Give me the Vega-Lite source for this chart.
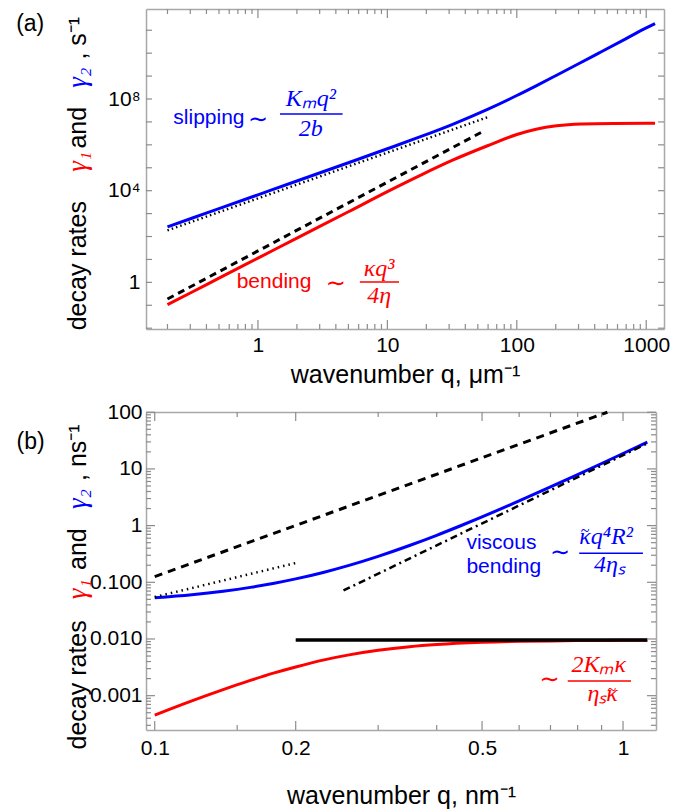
{
  "$schema": "https://vega.github.io/schema/vega-lite/v6.json",
  "background": "white",
  "padding": {"left": 16, "top": 8, "right": 4, "bottom": 4},
  "spacing": 14,
  "config": {
    "view": {"stroke": null},
    "axis": {
      "domainColor": "#a8a8a8", "domainWidth": 1.5, "ticks": false,
      "labelFont": "Liberation Sans", "labelFontSize": 21, "labelColor": "black",
      "titleFont": "Liberation Sans", "titleFontSize": 25, "titleFontWeight": "normal", "titleColor": "black",
      "grid": false, "labelOverlap": false, "labelFlush": false
    },
    "text": {"font": "Liberation Sans"}
  },
  "datasets": {
    "blueA": [
      {"q": 0.2, "v": 264}, {"q": 0.316, "v": 659}, {"q": 0.5, "v": 1652}, {"q": 1, "v": 6607},
      {"q": 2, "v": 26400}, {"q": 5, "v": 166000}, {"q": 10, "v": 673000}, {"q": 17.8, "v": 2210000},
      {"q": 31.6, "v": 7690000}, {"q": 59.4, "v": 35200000}, {"q": 100, "v": 142000000}, {"q": 141, "v": 376000000},
      {"q": 203, "v": 1.09e9}, {"q": 300, "v": 3.45e9}, {"q": 437, "v": 1.06e10}, {"q": 700, "v": 4.33e10},
      {"q": 1000, "v": 1.26e11}, {"q": 1170, "v": 1.95e11}
    ],
    "redA": [
      {"q": 0.2, "v": 0.107}, {"q": 0.316, "v": 0.40}, {"q": 0.5, "v": 1.53}, {"q": 1, "v": 11.4},
      {"q": 2, "v": 85}, {"q": 5, "v": 1200}, {"q": 10, "v": 9120}, {"q": 17.8, "v": 45700},
      {"q": 31.6, "v": 209000}, {"q": 59.4, "v": 912000}, {"q": 100, "v": 2820000}, {"q": 141, "v": 4790000},
      {"q": 203, "v": 6760000}, {"q": 316, "v": 8130000}, {"q": 562, "v": 8610000}, {"q": 1170, "v": 8710000}
    ],
    "dashA": [{"q": 0.2, "v": 0.188}, {"q": 55, "v": 3900000}],
    "dotA": [{"q": 0.2, "v": 185}, {"q": 59.4, "v": 16000000}],
    "tkxA": [
      {"q": 1, "v": 0.00923, "v2": 0.0228}, {"q": 10, "v": 0.00923, "v2": 0.0228}, {"q": 100, "v": 0.00923, "v2": 0.0228}, {"q": 1000, "v": 0.00923, "v2": 0.0228},
      {"q": 1, "v": 8.45e11, "v2": 3.42e11}, {"q": 10, "v": 8.45e11, "v2": 3.42e11}, {"q": 100, "v": 8.45e11, "v2": 3.42e11}, {"q": 1000, "v": 8.45e11, "v2": 3.42e11},
      {"q": 0.2, "v": 0.00923, "v2": 0.0152}, {"q": 0.3, "v": 0.00923, "v2": 0.0152}, {"q": 0.4, "v": 0.00923, "v2": 0.0152}, {"q": 0.5, "v": 0.00923, "v2": 0.0152},
      {"q": 0.6, "v": 0.00923, "v2": 0.0152}, {"q": 0.7, "v": 0.00923, "v2": 0.0152}, {"q": 0.8, "v": 0.00923, "v2": 0.0152}, {"q": 0.9, "v": 0.00923, "v2": 0.0152},
      {"q": 2, "v": 0.00923, "v2": 0.0152}, {"q": 3, "v": 0.00923, "v2": 0.0152}, {"q": 4, "v": 0.00923, "v2": 0.0152}, {"q": 5, "v": 0.00923, "v2": 0.0152},
      {"q": 6, "v": 0.00923, "v2": 0.0152}, {"q": 7, "v": 0.00923, "v2": 0.0152}, {"q": 8, "v": 0.00923, "v2": 0.0152}, {"q": 9, "v": 0.00923, "v2": 0.0152},
      {"q": 20, "v": 0.00923, "v2": 0.0152}, {"q": 30, "v": 0.00923, "v2": 0.0152}, {"q": 40, "v": 0.00923, "v2": 0.0152}, {"q": 50, "v": 0.00923, "v2": 0.0152},
      {"q": 60, "v": 0.00923, "v2": 0.0152}, {"q": 70, "v": 0.00923, "v2": 0.0152}, {"q": 80, "v": 0.00923, "v2": 0.0152}, {"q": 90, "v": 0.00923, "v2": 0.0152},
      {"q": 200, "v": 0.00923, "v2": 0.0152}, {"q": 300, "v": 0.00923, "v2": 0.0152}, {"q": 400, "v": 0.00923, "v2": 0.0152}, {"q": 500, "v": 0.00923, "v2": 0.0152},
      {"q": 600, "v": 0.00923, "v2": 0.0152}, {"q": 700, "v": 0.00923, "v2": 0.0152}, {"q": 800, "v": 0.00923, "v2": 0.0152}, {"q": 900, "v": 0.00923, "v2": 0.0152},
      {"q": 0.2, "v": 8.45e11, "v2": 5.12e11}, {"q": 0.3, "v": 8.45e11, "v2": 5.12e11}, {"q": 0.4, "v": 8.45e11, "v2": 5.12e11}, {"q": 0.5, "v": 8.45e11, "v2": 5.12e11},
      {"q": 0.6, "v": 8.45e11, "v2": 5.12e11}, {"q": 0.7, "v": 8.45e11, "v2": 5.12e11}, {"q": 0.8, "v": 8.45e11, "v2": 5.12e11}, {"q": 0.9, "v": 8.45e11, "v2": 5.12e11},
      {"q": 2, "v": 8.45e11, "v2": 5.12e11}, {"q": 3, "v": 8.45e11, "v2": 5.12e11}, {"q": 4, "v": 8.45e11, "v2": 5.12e11}, {"q": 5, "v": 8.45e11, "v2": 5.12e11},
      {"q": 6, "v": 8.45e11, "v2": 5.12e11}, {"q": 7, "v": 8.45e11, "v2": 5.12e11}, {"q": 8, "v": 8.45e11, "v2": 5.12e11}, {"q": 9, "v": 8.45e11, "v2": 5.12e11},
      {"q": 20, "v": 8.45e11, "v2": 5.12e11}, {"q": 30, "v": 8.45e11, "v2": 5.12e11}, {"q": 40, "v": 8.45e11, "v2": 5.12e11}, {"q": 50, "v": 8.45e11, "v2": 5.12e11},
      {"q": 60, "v": 8.45e11, "v2": 5.12e11}, {"q": 70, "v": 8.45e11, "v2": 5.12e11}, {"q": 80, "v": 8.45e11, "v2": 5.12e11}, {"q": 90, "v": 8.45e11, "v2": 5.12e11},
      {"q": 200, "v": 8.45e11, "v2": 5.12e11}, {"q": 300, "v": 8.45e11, "v2": 5.12e11}, {"q": 400, "v": 8.45e11, "v2": 5.12e11}, {"q": 500, "v": 8.45e11, "v2": 5.12e11},
      {"q": 600, "v": 8.45e11, "v2": 5.12e11}, {"q": 700, "v": 8.45e11, "v2": 5.12e11}, {"q": 800, "v": 8.45e11, "v2": 5.12e11}, {"q": 900, "v": 8.45e11, "v2": 5.12e11}
    ],
    "tkyA": [
      {"v": 0.01, "q": 0.1365, "q2": 0.1518}, {"v": 0.1, "q": 0.1365, "q2": 0.1518}, {"v": 1, "q": 0.1365, "q2": 0.1518}, {"v": 10, "q": 0.1365, "q2": 0.1518},
      {"v": 100, "q": 0.1365, "q2": 0.1518}, {"v": 1000, "q": 0.1365, "q2": 0.1518}, {"v": 10000, "q": 0.1365, "q2": 0.1518}, {"v": 100000, "q": 0.1365, "q2": 0.1518},
      {"v": 1000000, "q": 0.1365, "q2": 0.1518}, {"v": 10000000, "q": 0.1365, "q2": 0.1518}, {"v": 100000000, "q": 0.1365, "q2": 0.1518}, {"v": 1e9, "q": 0.1365, "q2": 0.1518},
      {"v": 1e10, "q": 0.1365, "q2": 0.1518}, {"v": 1e11, "q": 0.1365, "q2": 0.1518},
      {"v": 0.01, "q": 1372, "q2": 1234}, {"v": 0.1, "q": 1372, "q2": 1234}, {"v": 1, "q": 1372, "q2": 1234}, {"v": 10, "q": 1372, "q2": 1234},
      {"v": 100, "q": 1372, "q2": 1234}, {"v": 1000, "q": 1372, "q2": 1234}, {"v": 10000, "q": 1372, "q2": 1234}, {"v": 100000, "q": 1372, "q2": 1234},
      {"v": 1000000, "q": 1372, "q2": 1234}, {"v": 10000000, "q": 1372, "q2": 1234}, {"v": 100000000, "q": 1372, "q2": 1234}, {"v": 1e9, "q": 1372, "q2": 1234},
      {"v": 1e10, "q": 1372, "q2": 1234}, {"v": 1e11, "q": 1372, "q2": 1234}
    ],
    "blueB": [
      {"q": 0.1, "v": 0.0535}, {"q": 0.12, "v": 0.0605}, {"q": 0.14, "v": 0.0697}, {"q": 0.16, "v": 0.0814},
      {"q": 0.18, "v": 0.0963}, {"q": 0.2, "v": 0.1148}, {"q": 0.23, "v": 0.1509}, {"q": 0.26, "v": 0.199},
      {"q": 0.3, "v": 0.287}, {"q": 0.35, "v": 0.446}, {"q": 0.4, "v": 0.675}, {"q": 0.45, "v": 0.995},
      {"q": 0.5, "v": 1.426}, {"q": 0.6, "v": 2.729}, {"q": 0.7, "v": 4.815}, {"q": 0.8, "v": 7.957},
      {"q": 0.9, "v": 12.47}, {"q": 1.0, "v": 18.71}, {"q": 1.127, "v": 29.76}
    ],
    "redB": [
      {"q": 0.1, "v": 0.000455}, {"q": 0.12, "v": 0.00081}, {"q": 0.14, "v": 0.00128}, {"q": 0.16, "v": 0.00186},
      {"q": 0.18, "v": 0.00252}, {"q": 0.2, "v": 0.00321}, {"q": 0.23, "v": 0.00428}, {"q": 0.26, "v": 0.00524},
      {"q": 0.3, "v": 0.00631}, {"q": 0.35, "v": 0.0073}, {"q": 0.4, "v": 0.00797}, {"q": 0.5, "v": 0.00872},
      {"q": 0.6, "v": 0.00908}, {"q": 0.7, "v": 0.00926}, {"q": 0.85, "v": 0.0094}, {"q": 1.0, "v": 0.00946},
      {"q": 1.127, "v": 0.00949}
    ],
    "dashB": [{"q": 0.1, "v": 0.126}, {"q": 0.926, "v": 100}],
    "dotB": [{"q": 0.1, "v": 0.055}, {"q": 0.2, "v": 0.219}],
    "ddB": [{"q": 0.253, "v": 0.0717}, {"q": 1.127, "v": 28.2}],
    "flatB": [{"q": 0.2, "v": 0.0096}, {"q": 1.127, "v": 0.0096}],
    "tkxB": [
      {"q": 0.1, "v": 0.000248, "v2": 0.000357}, {"q": 0.2, "v": 0.000248, "v2": 0.000357}, {"q": 0.5, "v": 0.000248, "v2": 0.000357}, {"q": 1, "v": 0.000248, "v2": 0.000357},
      {"q": 0.1, "v": 101, "v2": 70.1}, {"q": 0.2, "v": 101, "v2": 70.1}, {"q": 0.5, "v": 101, "v2": 70.1}, {"q": 1, "v": 101, "v2": 70.1},
      {"q": 0.15, "v": 0.000248, "v2": 0.000304}, {"q": 0.3, "v": 0.000248, "v2": 0.000304}, {"q": 0.4, "v": 0.000248, "v2": 0.000304}, {"q": 0.6, "v": 0.000248, "v2": 0.000304},
      {"q": 0.7, "v": 0.000248, "v2": 0.000304}, {"q": 0.8, "v": 0.000248, "v2": 0.000304}, {"q": 0.9, "v": 0.000248, "v2": 0.000304},
      {"q": 0.15, "v": 101, "v2": 82.4}, {"q": 0.3, "v": 101, "v2": 82.4}, {"q": 0.4, "v": 101, "v2": 82.4}, {"q": 0.6, "v": 101, "v2": 82.4},
      {"q": 0.7, "v": 101, "v2": 82.4}, {"q": 0.8, "v": 101, "v2": 82.4}, {"q": 0.9, "v": 101, "v2": 82.4}
    ],
    "tkyB": [
      {"v": 0.001, "q": 0.0958, "q2": 0.10014}, {"v": 0.01, "q": 0.0958, "q2": 0.10014}, {"v": 0.1, "q": 0.0958, "q2": 0.10014},
      {"v": 1, "q": 0.0958, "q2": 0.10014}, {"v": 10, "q": 0.0958, "q2": 0.10014}, {"v": 100, "q": 0.0958, "q2": 0.10014},
      {"v": 0.001, "q": 1.176, "q2": 1.125}, {"v": 0.01, "q": 1.176, "q2": 1.125}, {"v": 0.1, "q": 1.176, "q2": 1.125},
      {"v": 1, "q": 1.176, "q2": 1.125}, {"v": 10, "q": 1.176, "q2": 1.125}, {"v": 100, "q": 1.176, "q2": 1.125},
      {"v": 0.0003, "q": 0.0958, "q2": 0.09818}, {"v": 0.0004, "q": 0.0958, "q2": 0.09818}, {"v": 0.0005, "q": 0.0958, "q2": 0.09818}, {"v": 0.0006, "q": 0.0958, "q2": 0.09818},
      {"v": 0.0007, "q": 0.0958, "q2": 0.09818}, {"v": 0.0008, "q": 0.0958, "q2": 0.09818}, {"v": 0.0009, "q": 0.0958, "q2": 0.09818},
      {"v": 0.002, "q": 0.0958, "q2": 0.09818}, {"v": 0.003, "q": 0.0958, "q2": 0.09818}, {"v": 0.004, "q": 0.0958, "q2": 0.09818}, {"v": 0.005, "q": 0.0958, "q2": 0.09818},
      {"v": 0.006, "q": 0.0958, "q2": 0.09818}, {"v": 0.007, "q": 0.0958, "q2": 0.09818}, {"v": 0.008, "q": 0.0958, "q2": 0.09818}, {"v": 0.009, "q": 0.0958, "q2": 0.09818},
      {"v": 0.02, "q": 0.0958, "q2": 0.09818}, {"v": 0.03, "q": 0.0958, "q2": 0.09818}, {"v": 0.04, "q": 0.0958, "q2": 0.09818}, {"v": 0.05, "q": 0.0958, "q2": 0.09818},
      {"v": 0.06, "q": 0.0958, "q2": 0.09818}, {"v": 0.07, "q": 0.0958, "q2": 0.09818}, {"v": 0.08, "q": 0.0958, "q2": 0.09818}, {"v": 0.09, "q": 0.0958, "q2": 0.09818},
      {"v": 0.2, "q": 0.0958, "q2": 0.09818}, {"v": 0.3, "q": 0.0958, "q2": 0.09818}, {"v": 0.4, "q": 0.0958, "q2": 0.09818}, {"v": 0.5, "q": 0.0958, "q2": 0.09818},
      {"v": 0.6, "q": 0.0958, "q2": 0.09818}, {"v": 0.7, "q": 0.0958, "q2": 0.09818}, {"v": 0.8, "q": 0.0958, "q2": 0.09818}, {"v": 0.9, "q": 0.0958, "q2": 0.09818},
      {"v": 2, "q": 0.0958, "q2": 0.09818}, {"v": 3, "q": 0.0958, "q2": 0.09818}, {"v": 4, "q": 0.0958, "q2": 0.09818}, {"v": 5, "q": 0.0958, "q2": 0.09818},
      {"v": 6, "q": 0.0958, "q2": 0.09818}, {"v": 7, "q": 0.0958, "q2": 0.09818}, {"v": 8, "q": 0.0958, "q2": 0.09818}, {"v": 9, "q": 0.0958, "q2": 0.09818},
      {"v": 20, "q": 0.0958, "q2": 0.09818}, {"v": 30, "q": 0.0958, "q2": 0.09818}, {"v": 40, "q": 0.0958, "q2": 0.09818}, {"v": 50, "q": 0.0958, "q2": 0.09818},
      {"v": 60, "q": 0.0958, "q2": 0.09818}, {"v": 70, "q": 0.0958, "q2": 0.09818}, {"v": 80, "q": 0.0958, "q2": 0.09818}, {"v": 90, "q": 0.0958, "q2": 0.09818},
      {"v": 0.0003, "q": 1.176, "q2": 1.1474}, {"v": 0.0004, "q": 1.176, "q2": 1.1474}, {"v": 0.0005, "q": 1.176, "q2": 1.1474}, {"v": 0.0006, "q": 1.176, "q2": 1.1474},
      {"v": 0.0007, "q": 1.176, "q2": 1.1474}, {"v": 0.0008, "q": 1.176, "q2": 1.1474}, {"v": 0.0009, "q": 1.176, "q2": 1.1474},
      {"v": 0.002, "q": 1.176, "q2": 1.1474}, {"v": 0.003, "q": 1.176, "q2": 1.1474}, {"v": 0.004, "q": 1.176, "q2": 1.1474}, {"v": 0.005, "q": 1.176, "q2": 1.1474},
      {"v": 0.006, "q": 1.176, "q2": 1.1474}, {"v": 0.007, "q": 1.176, "q2": 1.1474}, {"v": 0.008, "q": 1.176, "q2": 1.1474}, {"v": 0.009, "q": 1.176, "q2": 1.1474},
      {"v": 0.02, "q": 1.176, "q2": 1.1474}, {"v": 0.03, "q": 1.176, "q2": 1.1474}, {"v": 0.04, "q": 1.176, "q2": 1.1474}, {"v": 0.05, "q": 1.176, "q2": 1.1474},
      {"v": 0.06, "q": 1.176, "q2": 1.1474}, {"v": 0.07, "q": 1.176, "q2": 1.1474}, {"v": 0.08, "q": 1.176, "q2": 1.1474}, {"v": 0.09, "q": 1.176, "q2": 1.1474},
      {"v": 0.2, "q": 1.176, "q2": 1.1474}, {"v": 0.3, "q": 1.176, "q2": 1.1474}, {"v": 0.4, "q": 1.176, "q2": 1.1474}, {"v": 0.5, "q": 1.176, "q2": 1.1474},
      {"v": 0.6, "q": 1.176, "q2": 1.1474}, {"v": 0.7, "q": 1.176, "q2": 1.1474}, {"v": 0.8, "q": 1.176, "q2": 1.1474}, {"v": 0.9, "q": 1.176, "q2": 1.1474},
      {"v": 2, "q": 1.176, "q2": 1.1474}, {"v": 3, "q": 1.176, "q2": 1.1474}, {"v": 4, "q": 1.176, "q2": 1.1474}, {"v": 5, "q": 1.176, "q2": 1.1474},
      {"v": 6, "q": 1.176, "q2": 1.1474}, {"v": 7, "q": 1.176, "q2": 1.1474}, {"v": 8, "q": 1.176, "q2": 1.1474}, {"v": 9, "q": 1.176, "q2": 1.1474},
      {"v": 20, "q": 1.176, "q2": 1.1474}, {"v": 30, "q": 1.176, "q2": 1.1474}, {"v": 40, "q": 1.176, "q2": 1.1474}, {"v": 50, "q": 1.176, "q2": 1.1474},
      {"v": 60, "q": 1.176, "q2": 1.1474}, {"v": 70, "q": 1.176, "q2": 1.1474}, {"v": 80, "q": 1.176, "q2": 1.1474}, {"v": 90, "q": 1.176, "q2": 1.1474}
    ]
  },
  "vconcat": [
    {
      "width": 518,
      "height": 320,
      "encoding": {
        "x": {"field": "q", "type": "quantitative", "scale": {"type": "log", "domain": [0.1365, 1372], "nice": false}, "axis": null},
        "y": {"field": "v", "type": "quantitative", "scale": {"type": "log", "domain": [0.00923, 8.45e11], "nice": false}, "axis": null}
      },
      "resolve": {"axis": {"x": "independent", "y": "independent"}},
      "layer": [
        {
          "data": {"name": "blueA"},
          "mark": {"type": "line", "color": "#0000ff", "strokeWidth": 3, "interpolate": "monotone"},
          "encoding": {
            "x": {"field": "q", "type": "quantitative", "scale": {"type": "log", "domain": [0.1365, 1372], "nice": false},
              "axis": {"orient": "bottom", "title": "wavenumber q, μm⁻¹", "titlePadding": 7,
                "values": [1, 10, 100, 1000], "labelExpr": "datum.value + ''", "labelPadding": 5}},
            "y": {"field": "v", "type": "quantitative", "scale": {"type": "log", "domain": [0.00923, 8.45e11], "nice": false},
              "axis": {"orient": "left", "title": null, "values": [1, 10000, 100000000],
                "labelExpr": "datum.value == 1 ? '1' : datum.value == 10000 ? '10⁴' : '10⁸'",
                "labelPadding": 6}}
          }
        },
        {
          "data": {"name": "redA"},
          "mark": {"type": "line", "color": "#ff0000", "strokeWidth": 3, "interpolate": "monotone"},
          "encoding": {
            "x": {"field": "q", "type": "quantitative", "scale": {"type": "log", "domain": [0.1365, 1372], "nice": false},
              "axis": {"orient": "top", "title": null, "labels": false, "values": [1]}},
            "y": {"field": "v", "type": "quantitative", "scale": {"type": "log", "domain": [0.00923, 8.45e11], "nice": false},
              "axis": {"orient": "right", "title": null, "labels": false, "values": [1]}}
          }
        },
        {"data": {"name": "tkxA"}, "mark": {"type": "rule", "color": "#8c8c8c", "strokeWidth": 1.2}, "encoding": {"y2": {"field": "v2"}}},
        {"data": {"name": "tkyA"}, "mark": {"type": "rule", "color": "#8c8c8c", "strokeWidth": 1.2}, "encoding": {"x2": {"field": "q2"}}},
        {"data": {"name": "dashA"}, "mark": {"type": "line", "color": "black", "strokeWidth": 3, "strokeDash": [7, 5]}, "encoding": {}},
        {"data": {"name": "dotA"}, "mark": {"type": "line", "color": "black", "strokeWidth": 2.5, "strokeDash": [1.5, 3]}, "encoding": {}},
        {
          "data": {"values": [{"q": 0.222, "v": 14800000, "t": "slipping"}]},
          "mark": {"type": "text", "align": "left", "baseline": "middle", "fontSize": 21, "color": "#0000ff"},
          "encoding": {"text": {"field": "t"}}
        },
        {
          "data": {"values": [{"q": 0.685, "v": 1.0, "t": "bending"}]},
          "mark": {"type": "text", "align": "left", "baseline": "middle", "fontSize": 21, "color": "#ff0000"},
          "encoding": {"text": {"field": "t"}}
        },
        {
          "data": {"values": [{"q": 1.0, "v": 12000000, "t": "∼"}]},
          "mark": {"type": "text", "align": "center", "baseline": "middle", "fontSize": 24, "font": "DejaVu Sans", "color": "#0000ff"},
          "encoding": {"text": {"field": "t"}}
        },
        {
          "data": {"values": [{"q": 4.0, "v": 0.85, "t": "∼"}]},
          "mark": {"type": "text", "align": "center", "baseline": "middle", "fontSize": 24, "font": "DejaVu Sans", "color": "#ff0000"},
          "encoding": {"text": {"field": "t"}}
        },
        {
          "data": {"values": [{"q": 2.56, "v": 51000000, "t": "Kₘq²"}, {"q": 2.56, "v": 2510000, "t": "2b"}]},
          "mark": {"type": "text", "align": "center", "baseline": "alphabetic", "fontSize": 24, "font": "Liberation Serif", "fontStyle": "italic", "color": "#0000ff"},
          "encoding": {"text": {"field": "t"}}
        },
        {
          "data": {"values": [{"q": 8.63, "v": 1.95, "t": "κq³"}, {"q": 8.63, "v": 0.12, "t": "4η"}]},
          "mark": {"type": "text", "align": "center", "baseline": "alphabetic", "fontSize": 24, "font": "Liberation Serif", "fontStyle": "italic", "color": "#ff0000"},
          "encoding": {"text": {"field": "t"}}
        },
        {
          "data": {"values": [{"q": 1.48, "q2": 4.51, "v": 22100000}]},
          "mark": {"type": "rule", "color": "#0000ff", "strokeWidth": 1.5},
          "encoding": {"x2": {"field": "q2"}}
        },
        {
          "data": {"values": [{"q": 6.13, "q2": 12.3, "v": 1.04}]},
          "mark": {"type": "rule", "color": "#ff0000", "strokeWidth": 1.5},
          "encoding": {"x2": {"field": "q2"}}
        },
        {
          "data": {"values": [{"q": 0.0407, "v": 5.35, "t": "decay rates"}, {"q": 0.0407, "v": 5600000, "t": "and"}, {"q": 0.0407, "v": 45000000000, "t": ", s⁻¹"}]},
          "mark": {"type": "text", "angle": 270, "align": "center", "baseline": "middle", "fontSize": 25, "color": "black"},
          "encoding": {"text": {"field": "t"}}
        },
        {
          "data": {"values": [{"q": 0.0407, "v": 183000, "t": "γ₁"}]},
          "mark": {"type": "text", "angle": 270, "align": "center", "baseline": "middle", "fontSize": 27, "font": "Liberation Serif", "fontStyle": "italic", "color": "#ff0000"},
          "encoding": {"text": {"field": "t"}}
        },
        {
          "data": {"values": [{"q": 0.0407, "v": 850000000, "t": "γ₂"}]},
          "mark": {"type": "text", "angle": 270, "align": "center", "baseline": "middle", "fontSize": 27, "font": "Liberation Serif", "fontStyle": "italic", "color": "#0000ff"},
          "encoding": {"text": {"field": "t"}}
        },
        {
          "data": {"values": [{"q": 0.0174, "v": 186000000000, "t": "(a)"}]},
          "mark": {"type": "text", "align": "center", "baseline": "middle", "fontSize": 23, "color": "black"},
          "encoding": {"text": {"field": "t"}}
        }
      ]
    },
    {
      "width": 510,
      "height": 318,
      "encoding": {
        "x": {"field": "q", "type": "quantitative", "scale": {"type": "log", "domain": [0.0958, 1.176], "nice": false}, "axis": null},
        "y": {"field": "v", "type": "quantitative", "scale": {"type": "log", "domain": [0.000248, 101], "nice": false}, "axis": null}
      },
      "resolve": {"axis": {"x": "independent", "y": "independent"}},
      "layer": [
        {
          "data": {"name": "redB"},
          "mark": {"type": "line", "color": "#ff0000", "strokeWidth": 3, "interpolate": "monotone"},
          "encoding": {
            "x": {"field": "q", "type": "quantitative", "scale": {"type": "log", "domain": [0.0958, 1.176], "nice": false},
              "axis": {"orient": "bottom", "title": "wavenumber q, nm⁻¹", "titlePadding": 25,
                "values": [0.1, 0.2, 0.5, 1], "labelExpr": "datum.value + ''", "labelPadding": 7}},
            "y": {"field": "v", "type": "quantitative", "scale": {"type": "log", "domain": [0.000248, 101], "nice": false},
              "axis": {"orient": "left", "title": null, "values": [0.001, 0.01, 0.1, 1, 10, 100],
                "labelExpr": "datum.value == 100 ? '100' : datum.value == 10 ? '10' : datum.value == 1 ? '1' : datum.value == 0.1 ? '0.100' : datum.value == 0.01 ? '0.010' : '0.001'",
                "labelPadding": 4}}
          }
        },
        {
          "data": {"name": "flatB"},
          "mark": {"type": "line", "color": "black", "strokeWidth": 3.5},
          "encoding": {
            "x": {"field": "q", "type": "quantitative", "scale": {"type": "log", "domain": [0.0958, 1.176], "nice": false},
              "axis": {"orient": "top", "title": null, "labels": false, "values": [1]}},
            "y": {"field": "v", "type": "quantitative", "scale": {"type": "log", "domain": [0.000248, 101], "nice": false},
              "axis": {"orient": "right", "title": null, "labels": false, "values": [1]}}
          }
        },
        {"data": {"name": "tkxB"}, "mark": {"type": "rule", "color": "#8c8c8c", "strokeWidth": 1.2}, "encoding": {"y2": {"field": "v2"}}},
        {"data": {"name": "tkyB"}, "mark": {"type": "rule", "color": "#8c8c8c", "strokeWidth": 1.2}, "encoding": {"x2": {"field": "q2"}}},
        {"data": {"name": "blueB"}, "mark": {"type": "line", "color": "#0000ff", "strokeWidth": 3, "interpolate": "monotone"}, "encoding": {}},
        {"data": {"name": "dashB"}, "mark": {"type": "line", "color": "black", "strokeWidth": 3, "strokeDash": [8, 6]}, "encoding": {}},
        {"data": {"name": "dotB"}, "mark": {"type": "line", "color": "black", "strokeWidth": 2.5, "strokeDash": [1.5, 4]}, "encoding": {}},
        {"data": {"name": "ddB"}, "mark": {"type": "line", "color": "black", "strokeWidth": 2.5, "strokeDash": [7, 4, 2, 4]}, "encoding": {}},
        {
          "data": {"values": [{"q": 0.463, "v": 0.488, "t": "viscous"}, {"q": 0.463, "v": 0.189, "t": "bending"}]},
          "mark": {"type": "text", "align": "left", "baseline": "middle", "fontSize": 21, "color": "#0000ff"},
          "encoding": {"text": {"field": "t"}}
        },
        {
          "data": {"values": [{"q": 0.734, "v": 0.325, "t": "∼"}]},
          "mark": {"type": "text", "align": "center", "baseline": "middle", "fontSize": 24, "font": "DejaVu Sans", "color": "#0000ff"},
          "encoding": {"text": {"field": "t"}}
        },
        {
          "data": {"values": [{"q": 0.697, "v": 0.0019, "t": "∼"}]},
          "mark": {"type": "text", "align": "center", "baseline": "middle", "fontSize": 24, "font": "DejaVu Sans", "color": "#ff0000"},
          "encoding": {"text": {"field": "t"}}
        },
        {
          "data": {"values": [{"q": 0.806, "v": 0.475, "t": "κq⁴R²"}]},
          "mark": {"type": "text", "align": "left", "baseline": "alphabetic", "fontSize": 24, "font": "Liberation Serif", "fontStyle": "italic", "color": "#0000ff"},
          "encoding": {"text": {"field": "t"}}
        },
        {
          "data": {"values": [{"q": 0.936, "v": 0.15, "t": "4ηₛ"}]},
          "mark": {"type": "text", "align": "center", "baseline": "alphabetic", "fontSize": 24, "font": "Liberation Serif", "fontStyle": "italic", "color": "#0000ff"},
          "encoding": {"text": {"field": "t"}}
        },
        {
          "data": {"values": [{"q": 0.83, "v": 0.8, "t": "~"}]},
          "mark": {"type": "text", "align": "center", "baseline": "middle", "fontSize": 16, "font": "Liberation Serif", "color": "#0000ff"},
          "encoding": {"text": {"field": "t"}}
        },
        {
          "data": {"values": [{"q": 0.887, "v": 0.00265, "t": "2Kₘκ"}]},
          "mark": {"type": "text", "align": "center", "baseline": "alphabetic", "fontSize": 24, "font": "Liberation Serif", "fontStyle": "italic", "color": "#ff0000"},
          "encoding": {"text": {"field": "t"}}
        },
        {
          "data": {"values": [{"q": 0.975, "v": 0.0008, "t": "ηₛκ"}]},
          "mark": {"type": "text", "align": "right", "baseline": "alphabetic", "fontSize": 24, "font": "Liberation Serif", "fontStyle": "italic", "color": "#ff0000"},
          "encoding": {"text": {"field": "t"}}
        },
        {
          "data": {"values": [{"q": 0.947, "v": 0.00127, "t": "~"}]},
          "mark": {"type": "text", "align": "center", "baseline": "middle", "fontSize": 16, "font": "Liberation Serif", "color": "#ff0000"},
          "encoding": {"text": {"field": "t"}}
        },
        {
          "data": {"values": [{"q": 0.806, "q2": 1.103, "v": 0.325}]},
          "mark": {"type": "rule", "color": "#0000ff", "strokeWidth": 1.5},
          "encoding": {"x2": {"field": "q2"}}
        },
        {
          "data": {"values": [{"q": 0.762, "q2": 1.04, "v": 0.00182}]},
          "mark": {"type": "rule", "color": "#ff0000", "strokeWidth": 1.5},
          "encoding": {"x2": {"field": "q2"}}
        },
        {
          "data": {"values": [{"q": 0.0686, "v": 0.00155, "t": "decay rates"}, {"q": 0.0686, "v": 0.385, "t": "and"}, {"q": 0.0686, "v": 19.4, "t": ", ns⁻¹"}]},
          "mark": {"type": "text", "angle": 270, "align": "center", "baseline": "middle", "fontSize": 25, "color": "black"},
          "encoding": {"text": {"field": "t"}}
        },
        {
          "data": {"values": [{"q": 0.0686, "v": 0.0758, "t": "γ₁"}]},
          "mark": {"type": "text", "angle": 270, "align": "center", "baseline": "middle", "fontSize": 27, "font": "Liberation Serif", "fontStyle": "italic", "color": "#ff0000"},
          "encoding": {"text": {"field": "t"}}
        },
        {
          "data": {"values": [{"q": 0.0686, "v": 2.94, "t": "γ₂"}]},
          "mark": {"type": "text", "angle": 270, "align": "center", "baseline": "middle", "fontSize": 27, "font": "Liberation Serif", "fontStyle": "italic", "color": "#0000ff"},
          "encoding": {"text": {"field": "t"}}
        },
        {
          "data": {"values": [{"q": 0.0543, "v": 30.4, "t": "(b)"}]},
          "mark": {"type": "text", "align": "center", "baseline": "middle", "fontSize": 23, "color": "black"},
          "encoding": {"text": {"field": "t"}}
        }
      ]
    }
  ]
}
